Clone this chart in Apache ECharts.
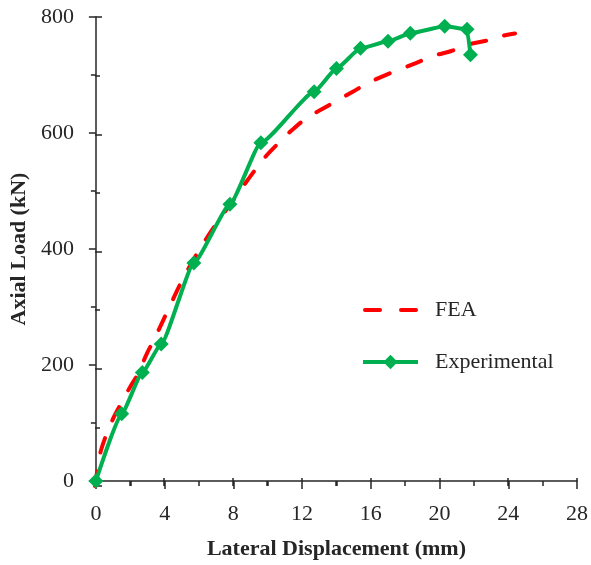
<!DOCTYPE html>
<html>
<head>
<meta charset="utf-8">
<script src="https://cdn.jsdelivr.net/npm/echarts@6/dist/echarts.min.js"></script>
<style>html,body{margin:0;padding:0;background:#fff;}#c{width:591px;height:565px;}</style>
</head>
<body>
<div id="c"></div>
<script>
const seriesNames = ['FEA', 'Experimental'];
const feaData = [[0,0],[0.3,55],[0.6,83],[1.1,118],[1.5,140],[2.1,172],[2.5,191],[3.0,225],[3.4,248],[4.0,285],[5.1,353],[6.0,400],[6.9,441],[7.8,478],[8.7,515],[9.4,543],[10.0,565],[10.8,589],[11.4,606],[12.3,628],[13.2,643],[14.1,658],[15.0,673],[15.9,688],[17.2,705],[18.6,721],[19.7,734],[20.7,742],[21.8,754],[22.8,760],[23.7,768],[24.4,772]];
const expData = [[0,0],[1.5,116],[2.7,187],[3.8,236],[5.7,376],[7.8,477],[9.6,583],[12.7,671],[14.0,711],[15.4,746],[17.0,758],[18.3,772],[20.3,784],[21.6,779],[21.8,735]];
const xTicks = [0,4,8,12,16,20,24,28];
const yTicks = [0,200,400,600,800];

const FONT = 'Liberation Serif';
const AX = '#262626';
const FS = 22;
const chart = echarts.init(document.getElementById('c'));
const tickLine = {color:AX, width:1.5};
const gridRect = {left:95, right:14, top:17, bottom:79, containLabel:false};
const xBase = {type:'value', min:xTicks[0], max:xTicks[xTicks.length-1], interval:xTicks[1]-xTicks[0], position:'bottom', splitLine:{show:false}};
const yBase = {type:'value', min:yTicks[0], max:yTicks[yTicks.length-1], interval:yTicks[1]-yTicks[0], position:'left', splitLine:{show:false}};
chart.setOption({
  animation:false,
  grid:[Object.assign({}, gridRect), Object.assign({}, gridRect)],
  xAxis:[
    Object.assign({}, xBase, {
      gridIndex:0,
      name:'Lateral Displacement (mm)', nameLocation:'middle', nameGap:57,
      nameTextStyle:{fontFamily:FONT, fontSize:FS, fontWeight:'bold', color:AX},
      axisLine:{lineStyle:{color:AX, width:1.5}},
      axisTick:{inside:false, length:8, lineStyle:tickLine},
      minorTick:{show:true, splitNumber:2, length:5, lineStyle:tickLine},
      axisLabel:{fontFamily:FONT, fontSize:FS, color:AX, margin:22}
    }),
    Object.assign({}, xBase, {
      gridIndex:1,
      axisLine:{show:true, lineStyle:{color:'rgba(0,0,0,0)'}},
      axisTick:{show:true, inside:true, length:8, lineStyle:tickLine},
      minorTick:{show:true, splitNumber:2, length:5, lineStyle:tickLine},
      axisLabel:{show:false}
    })
  ],
  yAxis:[
    Object.assign({}, yBase, {
      gridIndex:0,
      name:'Axial Load (kN)', nameLocation:'middle', nameGap:61,
      nameTextStyle:{fontFamily:FONT, fontSize:FS, fontWeight:'bold', color:AX},
      axisLine:{lineStyle:{color:AX, width:1.5}},
      axisTick:{inside:false, length:7, lineStyle:tickLine},
      minorTick:{show:true, splitNumber:2, length:5, lineStyle:tickLine},
      axisLabel:{fontFamily:FONT, fontSize:FS, color:AX, margin:22}
    }),
    Object.assign({}, yBase, {
      gridIndex:1,
      axisLine:{show:true, lineStyle:{color:'rgba(0,0,0,0)'}},
      axisTick:{show:true, inside:true, length:7, lineStyle:tickLine},
      minorTick:{show:true, splitNumber:2, length:5, lineStyle:tickLine},
      axisLabel:{show:false}
    })
  ],
  legend:{
    orient:'vertical', left:356, top:294, itemWidth:55, itemHeight:18, itemGap:30,
    lineStyle:{width:4},
    data:[
      {name:seriesNames[0], icon:'path://M2,0h15a2,2 0 0 1 0,4h-15a2,2 0 0 1 0,-4z M38,0h15a2,2 0 0 1 0,4h-15a2,2 0 0 1 0,-4z', itemStyle:{color:'#FF0000'}},
      {name:seriesNames[1]}
    ],
    textStyle:{fontFamily:FONT, fontSize:FS, color:AX, padding:[0,0,0,12]}
  },
  series:[
    {name:seriesNames[0], type:'line', xAxisIndex:1, yAxisIndex:1, data:feaData, smooth:0.3, showSymbol:false, symbol:'none',
     lineStyle:{color:'#FF0000', width:4, type:[15,19], cap:'round'}, itemStyle:{color:'#FF0000'}, z:2},
    {name:seriesNames[1], type:'line', xAxisIndex:0, yAxisIndex:0, data:expData, smooth:0.15, smoothMonotone:'x', symbol:'diamond', symbolSize:15,
     lineStyle:{color:'#00B050', width:4}, itemStyle:{color:'#00B050'}, z:3}
  ]
});
</script>
</body>
</html>
